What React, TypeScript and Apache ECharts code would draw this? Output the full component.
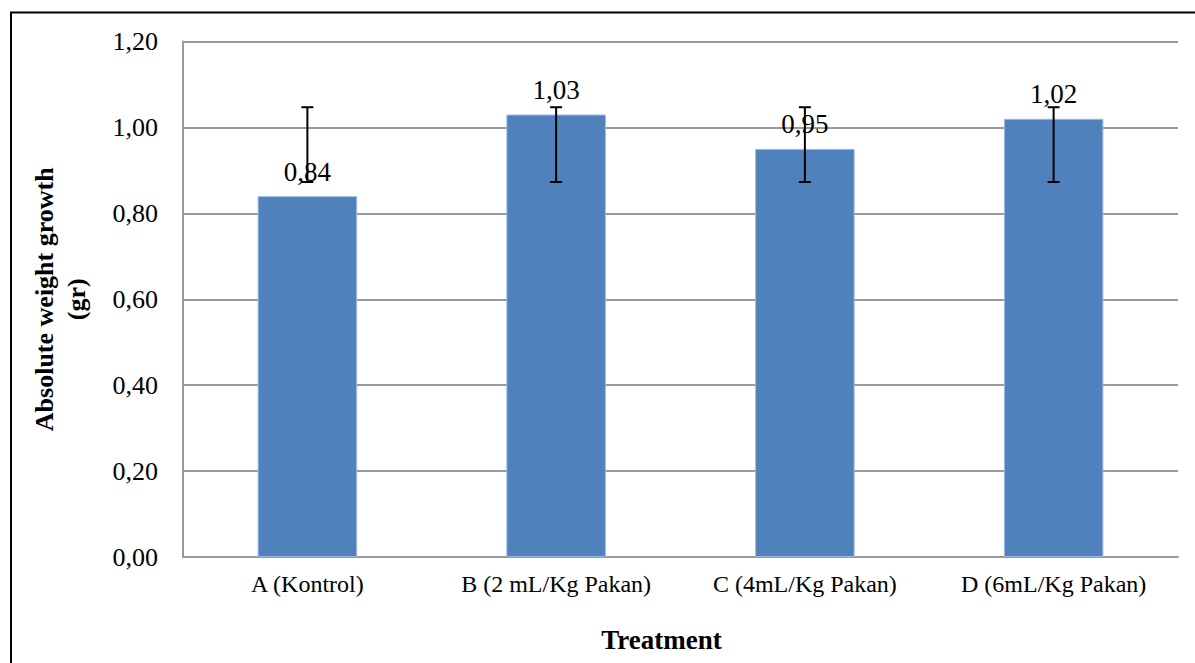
import React, { useEffect, useRef } from "react";
import * as echarts from "echarts";

const categories = ["A (Kontrol)", "B (2 mL/Kg Pakan)", "C (4mL/Kg Pakan)", "D (6mL/Kg Pakan)"];
const values = [0.84, 1.03, 0.95, 1.02];
const errLow = [0.873, 0.873, 0.873, 0.873];
const errHigh = [1.047, 1.047, 1.047, 1.047];

const fmt = (v: number) => v.toFixed(2).replace(".", ",");
const FONT = "Liberation Serif, Times New Roman, serif";

export default function App() {
  const ref = useRef<HTMLDivElement>(null);
  useEffect(() => {
    if (!ref.current) return;
    const chart = echarts.init(ref.current, undefined, { renderer: "svg" });
    chart.setOption({
      animation: false,
      backgroundColor: "#ffffff",
      textStyle: { fontFamily: FONT, color: "#000" },
      grid: { left: 183, right: 17, top: 41.5, bottom: 106, containLabel: false },
      graphic: [
        {
          type: "rect",
          shape: { x: 11, y: 12.5, width: 1400, height: 1000 },
          style: { fill: "none", stroke: "#000", lineWidth: 2 },
          silent: true,
        },
      ],
      xAxis: {
        type: "category",
        data: categories,
        name: "Treatment",
        nameLocation: "middle",
        nameGap: 69,
        nameTextStyle: { fontFamily: FONT, fontWeight: "bold", fontSize: 27, color: "#000", padding: [0, 38, 0, 0] },
        axisLine: { lineStyle: { color: "#9a9a9a", width: 2 } },
        axisTick: { show: false },
        axisLabel: { fontFamily: FONT, fontSize: 24, color: "#000", margin: 15 },
      },
      yAxis: {
        type: "value",
        min: 0,
        max: 1.2,
        interval: 0.2,
        name: "Absolute weight growth\n(gr)",
        nameLocation: "middle",
        nameGap: 91,
        nameRotate: 90,
        nameTextStyle: { fontFamily: FONT, fontWeight: "bold", fontSize: 26, color: "#000", lineHeight: 32 },
        axisLine: { show: true, lineStyle: { color: "#9a9a9a", width: 2 } },
        axisTick: { show: false },
        splitLine: { lineStyle: { color: "#9a9a9a", width: 2 } },
        axisLabel: { fontFamily: FONT, fontSize: 26, color: "#000", margin: 25, formatter: (v: number) => fmt(v) },
      },
      series: [
        {
          type: "bar",
          data: values,
          barWidth: "40%",
          itemStyle: { color: "#4f81bd", borderColor: "#9bb8dd", borderWidth: 1 },
          label: {
            show: true,
            position: "top",
            distance: 11,
            fontFamily: FONT,
            fontSize: 27,
            color: "#000",
            formatter: (p: any) => fmt(p.value),
          },
          z: 2,
        },
        {
          type: "custom",
          data: categories.map((_, i) => [i, errLow[i], errHigh[i]]),
          z: 5,
          renderItem: (params: any, api: any) => {
            const x = api.value(0);
            const lo = api.coord([x, api.value(1)]);
            const hi = api.coord([x, api.value(2)]);
            const hw = 6;
            const style = { stroke: "#000", lineWidth: 2 };
            return {
              type: "group",
              children: [
                { type: "line", shape: { x1: lo[0], y1: lo[1], x2: hi[0], y2: hi[1] }, style },
                { type: "line", shape: { x1: lo[0] - hw, y1: lo[1], x2: lo[0] + hw, y2: lo[1] }, style },
                { type: "line", shape: { x1: hi[0] - hw, y1: hi[1], x2: hi[0] + hw, y2: hi[1] }, style },
              ],
            };
          },
        },
      ],
    });
    return () => chart.dispose();
  }, []);
  return <div ref={ref} style={{ position: "absolute", left: 0, top: 0, width: 1195, height: 663 }} />;
}
